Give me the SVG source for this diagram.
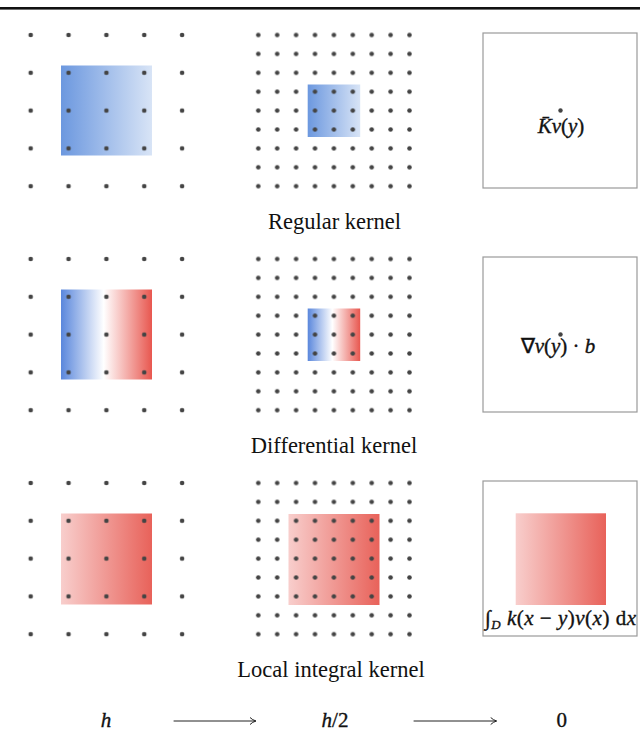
<svg xmlns="http://www.w3.org/2000/svg" xmlns:xlink="http://www.w3.org/1999/xlink" width="640" height="732" viewBox="0 0 640 732">
<style>
.lbl{font-family:"Liberation Serif","Times New Roman",serif;font-size:22.5px;fill:#111;text-anchor:middle}
.math{font-family:"Liberation Serif","Times New Roman",serif;font-size:21px;fill:#111;stroke:#111;stroke-width:0.35}
.it{font-style:italic}
.box{fill:none;stroke:#9a9a9a;stroke-width:1.2}
.dot{fill:#444}
.arr{stroke:#222;stroke-width:1;fill:none}
</style>
<defs>
<pattern id="pL" patternUnits="userSpaceOnUse" x="11.775" y="16.1" width="37.85" height="37.8">
<circle class="dot" cx="18.925" cy="18.9" r="2.3"/>
</pattern>
<pattern id="pM" patternUnits="userSpaceOnUse" x="248.85" y="25.55" width="18.9" height="18.9">
<circle class="dot" cx="9.45" cy="9.45" r="2.3"/>
</pattern>
<linearGradient id="gBlue" x1="0" y1="0" x2="1" y2="0">
<stop offset="0" stop-color="#6c98df"/>
<stop offset="1" stop-color="#d8e4f6"/>
</linearGradient>
<linearGradient id="gDiff" x1="0" y1="0" x2="1" y2="0">
<stop offset="0" stop-color="#5a87dc"/>
<stop offset="0.47" stop-color="#ffffff"/>
<stop offset="1" stop-color="#e8574f"/>
</linearGradient>
<linearGradient id="gRed" x1="0" y1="0" x2="1" y2="0">
<stop offset="0" stop-color="#f8cecc"/>
<stop offset="1" stop-color="#e8625a"/>
</linearGradient>
<marker id="ah" markerWidth="10" markerHeight="10" refX="6" refY="4" orient="auto" markerUnits="userSpaceOnUse">
<path d="M0.5,0.5 Q3,3 6.5,4 Q3,5 0.5,7.5" fill="none" stroke="#222" stroke-width="1"/>
</marker>
</defs>
<rect width="640" height="732" fill="#ffffff"/>
<rect x="0" y="7" width="640" height="2.6" fill="#111"/>

<!-- Row 1: Regular kernel -->
<g id="regular-h">
<rect x="61" y="65.5" width="91" height="90" fill="url(#gBlue)"/>
<rect x="11.775" y="16.1" width="189.25" height="189" fill="url(#pL)"/>
</g>
<g id="regular-h2">
<rect x="307.7" y="84.5" width="52.5" height="52.5" fill="url(#gBlue)"/>
<rect x="248.85" y="25.55" width="170.1" height="170.1" fill="url(#pM)"/>
</g>
<g id="regular-0">
<rect class="box" x="483" y="33" width="154" height="155"/>
<circle class="dot" cx="560.5" cy="110.5" r="2.2"/>
<text class="math" x="561" y="133" text-anchor="middle"><tspan class="it">K̄v</tspan>(<tspan class="it">y</tspan>)</text>
</g>
<text class="lbl" x="334.5" y="229.3">Regular kernel</text>

<!-- Row 2: Differential kernel -->
<g id="differential-h" transform="translate(0,224)">
<rect x="61" y="65.5" width="91" height="90" fill="url(#gDiff)"/>
<rect x="11.775" y="16.1" width="189.25" height="189" fill="url(#pL)"/>
</g>
<g id="differential-h2" transform="translate(0,224)">
<rect x="307.7" y="84.5" width="52.5" height="52.5" fill="url(#gDiff)"/>
<rect x="248.85" y="25.55" width="170.1" height="170.1" fill="url(#pM)"/>
</g>
<g id="differential-0" transform="translate(0,224)">
<rect class="box" x="483" y="33" width="154" height="155"/>
<circle class="dot" cx="560.5" cy="110.5" r="2.2"/>
<text class="math" x="558" y="129" text-anchor="middle">∇<tspan class="it">v</tspan>(<tspan class="it">y</tspan>) · <tspan class="it">b</tspan></text>
</g>
<text class="lbl" x="334" y="453.3">Differential kernel</text>

<!-- Row 3: Local integral kernel -->
<g id="integral-h" transform="translate(0,448)">
<rect x="61" y="65.5" width="91" height="91" fill="url(#gRed)"/>
<rect x="11.775" y="16.1" width="189.25" height="189" fill="url(#pL)"/>
</g>
<g id="integral-h2" transform="translate(0,448)">
<rect x="288.5" y="66" width="91" height="91" fill="url(#gRed)"/>
<rect x="248.85" y="25.55" width="170.1" height="170.1" fill="url(#pM)"/>
</g>
<g id="integral-0" transform="translate(0,448)">
<rect class="box" x="483" y="33" width="154" height="155"/>
<rect x="515.7" y="65.3" width="90.3" height="91.7" fill="url(#gRed)"/>
<text class="math" x="485" y="177" font-size="19.5" textLength="151" lengthAdjust="spacing">∫<tspan font-size="13" class="it" dy="4">D</tspan><tspan dy="-4" class="it"> k</tspan>(<tspan class="it">x</tspan> − <tspan class="it">y</tspan>)<tspan class="it">v</tspan>(<tspan class="it">x</tspan>) d<tspan class="it">x</tspan></text>
</g>
<text class="lbl" x="331" y="677.3">Local integral kernel</text>

<!-- Bottom scale labels -->
<g id="scale-h"><text class="math it" x="106" y="727" font-size="25" stroke-width="0.2" text-anchor="middle">h</text></g>
<g id="scale-h2"><text class="math" x="335" y="727" font-size="25" stroke-width="0.2" text-anchor="middle"><tspan class="it">h</tspan>/2</text></g>
<g id="scale-0"><text class="math" x="561.7" y="727" font-size="25" stroke-width="0.2" text-anchor="middle">0</text></g>

<g id="connectors">
<line class="arr" x1="173.6" y1="721" x2="255.5" y2="721" marker-end="url(#ah)"/>
<line class="arr" x1="413.6" y1="721" x2="496.2" y2="721" marker-end="url(#ah)"/>
</g>
</svg>
